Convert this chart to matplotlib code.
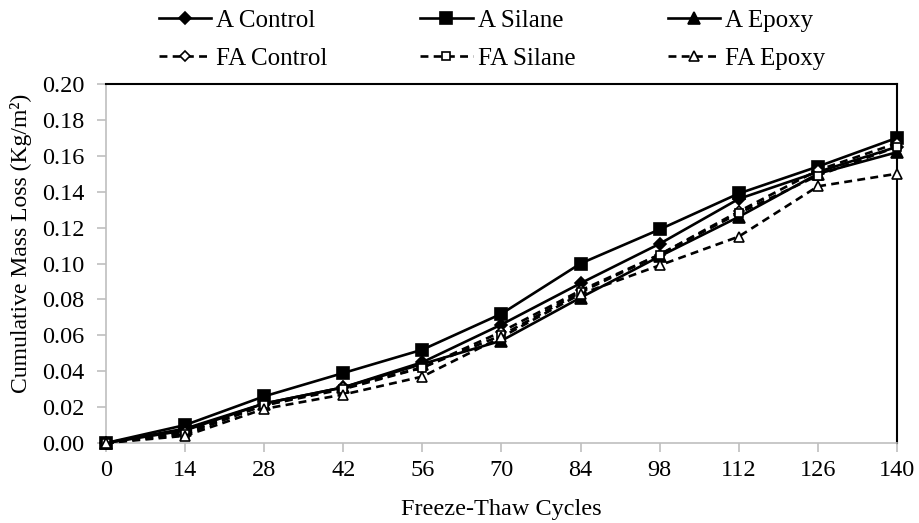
import matplotlib
matplotlib.use("Agg")
import matplotlib.pyplot as plt
import numpy as np

cycles = [0, 14, 28, 42, 56, 70, 84, 98, 112, 126, 140]
a_control = [0.000, 0.008, 0.022, 0.031, 0.045, 0.066, 0.089, 0.111, 0.136, 0.151, 0.165]
a_silane = [0.000, 0.010, 0.026, 0.039, 0.052, 0.072, 0.100, 0.119, 0.139, 0.154, 0.170]
a_epoxy = [0.000, 0.007, 0.022, 0.031, 0.044, 0.057, 0.081, 0.104, 0.126, 0.150, 0.162]
fa_control = [0.000, 0.006, 0.021, 0.031, 0.042, 0.062, 0.085, 0.105, 0.129, 0.152, 0.167]
fa_silane = [0.000, 0.005, 0.021, 0.030, 0.042, 0.060, 0.084, 0.105, 0.128, 0.149, 0.165]
fa_epoxy = [0.000, 0.004, 0.019, 0.027, 0.037, 0.059, 0.083, 0.099, 0.115, 0.143, 0.150]

yticks = [0.00, 0.02, 0.04, 0.06, 0.08, 0.10, 0.12, 0.14, 0.16, 0.18, 0.20]

plt.rcParams['font.family'] = ['Liberation Serif', 'DejaVu Serif']

fig = plt.figure(figsize=(9.2, 5.23), dpi=100)
ax = fig.add_axes([106 / 920, 1 - 443 / 523, (897 - 106) / 920, (443 - 84) / 523])

lw = 1.9
series = [
    ("A Control", a_control, '-', 'D', 'black', 6.5),
    ("FA Control", fa_control, '--', 'D', 'white', 5.5),
    ("A Silane", a_silane, '-', 's', 'black', 8.5),
    ("FA Silane", fa_silane, '--', 's', 'white', 5.5),
    ("A Epoxy", a_epoxy, '-', '^', 'black', 8),
    ("FA Epoxy", fa_epoxy, '--', '^', 'white', 6.5),
]
handles = []
for name, vals, ls, mk, fc, ms in series:
    h, = ax.plot(cycles, vals, linestyle=ls, color='black', linewidth=lw,
                 marker=mk, markerfacecolor=fc, markeredgecolor='black',
                 markeredgewidth=1.2, markersize=ms, label=name, clip_on=False,
                 zorder=3 if fc == 'black' else 4, dashes=(3, 2) if ls == '--' else (None, None))
    handles.append(h)

ax.set_xlim(0, 140)
ax.set_ylim(0, 0.20)
ax.set_xticks(cycles)
ax.set_xticklabels([str(c) for c in cycles])
ax.set_yticks(yticks)
ax.set_yticklabels([f"{v:.2f}" for v in yticks])

for s in ['left', 'bottom']:
    ax.spines[s].set_color('#BFBFBF')
    ax.spines[s].set_linewidth(1.2)
for s in ['top', 'right']:
    ax.spines[s].set_color('black')
    ax.spines[s].set_linewidth(1.5)
ax.tick_params(axis='both', colors='#BFBFBF', labelcolor='black', labelsize=17.5,
               length=6.5, width=1.2, direction='out')
ax.tick_params(axis='x', pad=6)
ax.tick_params(axis='y', pad=9)

ax.set_xlabel("Freeze-Thaw Cycles", fontsize=17.5, labelpad=13)
ax.set_ylabel("Cumulative Mass Loss (Kg/m²)", fontsize=17)
ax.yaxis.set_label_coords(-0.094, 0.555)

fig.legend(handles=handles, loc='upper center', bbox_to_anchor=(0.535, 1.015), ncol=3,
           frameon=False, fontsize=18, handlelength=2.1, columnspacing=3.7,
           handletextpad=0.2, labelspacing=0.62, borderpad=0.2)

fig.savefig("out.png", dpi=100)
